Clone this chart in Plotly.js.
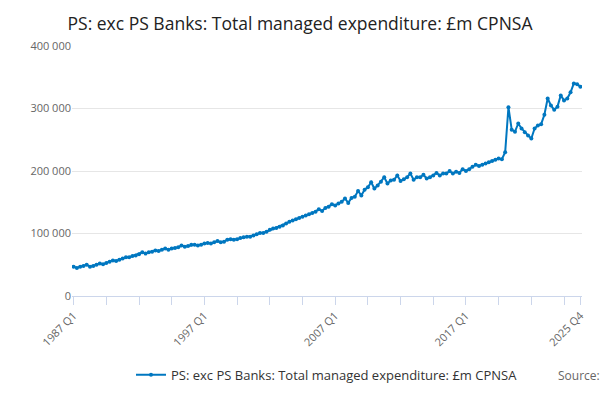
<!DOCTYPE html>
<html><head><script src="https://cdn.plot.ly/plotly-3.0.1.min.js"></script>
<style>body{margin:0}#chart{width:600px;height:400px}</style></head>
<body><div id="chart"></div>
<script>
// quarterly values, £m, 1987 Q1 .. 2025 Q4
const startYear = 1987;
const values = [
  47000,45000,47000,48000, 50000,47000,48000,50000, 52000,51000,53000,55000,
  57000,56000,58000,60000, 62000,62000,64000,65000, 67000,70000,68000,70000,
  71000,73000,72000,74000, 76000,74000,76000,77000, 78000,81000,79000,80000,
  82000,82000,81000,82000, 84000,85000,84000,86000, 88000,86000,87000,90000,
  91000,90000,91000,93000, 94000,95000,95000,97000, 99000,101000,101000,103000,
  106000,108000,109000,111000, 113000,116000,119000,121000, 123000,125000,127000,129000,
  131000,133000,135000,139000, 136000,141000,143000,147000, 145000,148000,151000,156000,
  149000,157000,159000,168000, 161000,170000,174000,182000, 172000,177000,183000,190000,
  180000,185000,186000,193000, 184000,187000,190000,196000, 186000,190000,190000,194000,
  188000,190000,193000,197000, 193000,196000,196000,200000, 196000,199000,197000,203000,
  200000,203000,207000,210000, 208000,210000,212000,214000, 216000,218000,220000,219000,
  230000,302000,266000,263000, 276000,268000,262000,257000, 252000,268000,273000,275000,
  290000,316000,305000,298000, 303000,321000,313000,316000, 326000,340000,339000,335000
];
const quarters = values.map((v, i) => (startYear + Math.floor(i / 4)) + ' Q' + (i % 4 + 1));
const labelled = ['1987 Q1', '1997 Q1', '2007 Q1', '2017 Q1', '2025 Q4'];

const tickvals = quarters.filter((q, i) => i % 10 === 0 || i === quarters.length - 1);
const ticktext = tickvals.map(q => labelled.includes(q) ? q : '');

Plotly.newPlot('chart', [{
  x: quarters, y: values, type: 'scatter', mode: 'lines+markers',
  name: 'PS: exc PS Banks: Total managed expenditure: £m CPNSA',
  line: {color: '#0077c0', width: 2}, marker: {color: '#0077c0', size: 4}
}], {
  width: 600, height: 400,
  font: {family: 'Open Sans, DejaVu Sans, sans-serif', color: '#555'},
  title: {text: 'PS: exc PS Banks: Total managed expenditure: £m CPNSA', font: {size: 17.5, color: '#222'}, x: 0.5, y: 0.955},
  margin: {l: 72, r: 18, t: 46, b: 103},
  separators: '. ',
  xaxis: {type: 'category', tickvals: tickvals, ticktext: ticktext, tickangle: -45,
    ticks: 'outside', ticklen: 8, tickcolor: '#ccd6eb', linecolor: '#ccd6eb', showline: true,
    showgrid: false, tickfont: {size: 11, color: '#666'}, range: [-0.5, quarters.length - 0.5]},
  yaxis: {range: [0, 400000], dtick: 100000, tickformat: ',d', gridcolor: '#e6e6e6',
    zeroline: false, tickfont: {size: 11, color: '#666'}},
  showlegend: true,
  legend: {orientation: 'h', x: 0.5, xanchor: 'center', y: -0.25, font: {size: 13, color: '#333'}},
  annotations: [{text: 'Source:', xref: 'paper', yref: 'paper', x: 1.04, y: -0.36, xanchor: 'right', showarrow: false, font: {size: 12, color: '#666'}}]
}, {displayModeBar: false});
</script></body></html>
